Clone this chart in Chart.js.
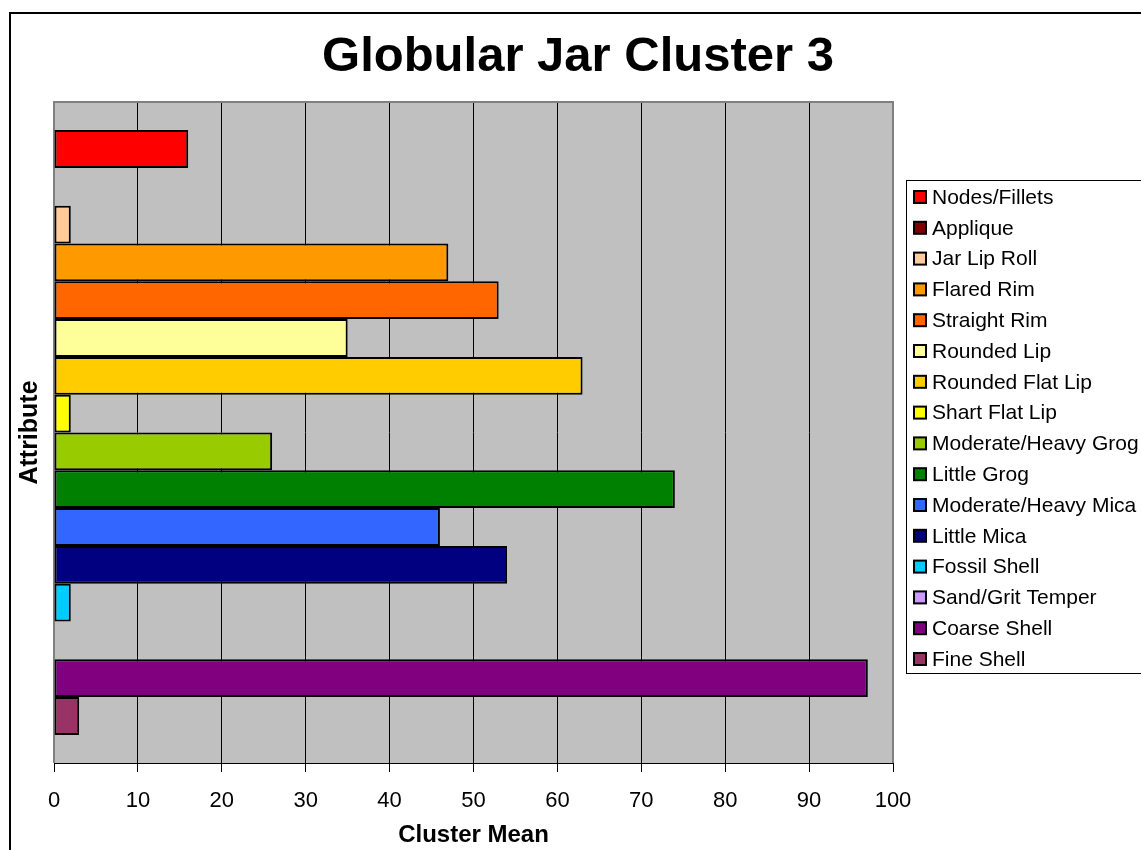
<!DOCTYPE html>
<html lang="en">
<head>
<meta charset="UTF-8">
<title>Globular Jar Cluster 3</title>
<script src="https://cdn.jsdelivr.net/npm/chart.js"></script>
<style>
  body { margin: 0; background: #fff; }
  canvas { display: block; }
</style>
</head>
<body>
<canvas id="chart" width="1141" height="850"></canvas>
<script>
const attributes = [
  'Nodes/Fillets', 'Applique', 'Jar Lip Roll', 'Flared Rim', 'Straight Rim',
  'Rounded Lip', 'Rounded Flat Lip', 'Shart Flat Lip', 'Moderate/Heavy Grog',
  'Little Grog', 'Moderate/Heavy Mica', 'Little Mica', 'Fossil Shell',
  'Sand/Grit Temper', 'Coarse Shell', 'Fine Shell'
];
const clusterMeans = [16, 0, 2, 47, 53, 35, 63, 2, 26, 74, 46, 54, 2, 0, 97, 3];
const barColors = [
  '#FF0000', '#800000', '#FFCC99', '#FF9900', '#FF6600',
  '#FFFF99', '#FFCC00', '#FFFF00', '#99CC00',
  '#008000', '#3366FF', '#000080', '#00CCFF',
  '#CC99FF', '#800080', '#993366'
];
const xTicks = { min: 0, max: 100, step: 10 };

const datasets = attributes.map((name, i) => ({
  label: name,
  data: [clusterMeans[i]],
  backgroundColor: barColors[i],
  borderColor: '#000',
  borderWidth: 2,
  borderSkipped: false,
  barPercentage: 1,
  categoryPercentage: 0.915
}));

// white page, grey plot area and the frame line
const backdrop = {
  id: 'backdrop',
  beforeDraw(chart) {
    const { ctx, chartArea: a } = chart;
    ctx.save();
    ctx.fillStyle = '#fff';
    ctx.fillRect(0, 0, chart.width, chart.height);
    ctx.fillStyle = '#C0C0C0';
    ctx.fillRect(a.left, a.top, a.right - a.left, a.bottom - a.top);
    ctx.strokeStyle = '#000';
    ctx.lineWidth = 2;
    ctx.beginPath();
    ctx.moveTo(10, chart.height);
    ctx.lineTo(10, 13);
    ctx.lineTo(chart.width, 13);
    ctx.stroke();
    ctx.restore();
  },
  beforeDatasetsDraw(chart) {
    const { ctx, chartArea: a } = chart;
    ctx.save();
    ctx.strokeStyle = '#808080';
    ctx.lineWidth = 2;
    ctx.beginPath();
    ctx.moveTo(a.left, a.bottom);
    ctx.lineTo(a.left, a.top);
    ctx.lineTo(a.right, a.top);
    ctx.lineTo(a.right, a.bottom);
    ctx.stroke();
    ctx.restore();
  }
};

// big title and the boxed legend on the right
const decorations = {
  id: 'decorations',
  afterDraw(chart) {
    const ctx = chart.ctx;
    ctx.save();
    ctx.fillStyle = '#000';
    ctx.font = 'bold 49px "Liberation Sans", Arial, sans-serif';
    ctx.textAlign = 'center';
    ctx.textBaseline = 'alphabetic';
    ctx.fillText('Globular Jar Cluster 3', 578, 71);

    ctx.strokeStyle = '#000';
    ctx.lineWidth = 1;
    ctx.strokeRect(906.5, 180.5, 260, 493);

    ctx.font = '21px "Liberation Sans", Arial, sans-serif';
    ctx.textAlign = 'left';
    ctx.textBaseline = 'middle';
    chart.data.datasets.forEach((ds, i) => {
      const y = 197 + i * 30.8;
      ctx.fillStyle = ds.backgroundColor;
      ctx.fillRect(914, y - 6, 12, 12);
      ctx.lineWidth = 2;
      ctx.strokeRect(914, y - 6, 12, 12);
      ctx.fillStyle = '#000';
      ctx.fillText(ds.label, 932, y + 1);
    });
    ctx.restore();
  }
};

new Chart(document.getElementById('chart'), {
  type: 'bar',
  data: { labels: [''], datasets: datasets },
  options: {
    indexAxis: 'y',
    responsive: false,
    animation: false,
    devicePixelRatio: 1,
    layout: { padding: { left: 0, top: 102, right: 248, bottom: 0 } },
    plugins: {
      legend: { display: false },
      title: { display: false },
      tooltip: { enabled: false }
    },
    scales: {
      x: {
        type: 'linear',
        min: xTicks.min,
        max: xTicks.max,
        afterFit(scale) { scale.height = 87; },
        ticks: {
          stepSize: xTicks.step,
          color: '#000',
          padding: 16,
          font: { family: '"Liberation Sans", Arial, sans-serif', size: 22 }
        },
        grid: {
          color: '#000',
          lineWidth: 1,
          drawTicks: true,
          tickLength: 9,
          tickColor: '#000'
        },
        border: { display: true, color: '#000', width: 1 },
        title: {
          display: true,
          text: 'Cluster Mean',
          color: '#000',
          padding: { top: 0, bottom: 0 },
          font: { family: '"Liberation Sans", Arial, sans-serif', size: 24, weight: 'bold' }
        }
      },
      y: {
        type: 'category',
        afterFit(scale) { scale.width = 54; },
        ticks: { display: false },
        grid: { display: false },
        border: { display: false },
        title: {
          display: true,
          text: 'Attribute',
          color: '#000',
          padding: { top: 15, bottom: 0 },
          font: { family: '"Liberation Sans", Arial, sans-serif', size: 25, weight: 'bold' }
        }
      }
    }
  },
  plugins: [backdrop, decorations]
});
</script>
</body>
</html>
